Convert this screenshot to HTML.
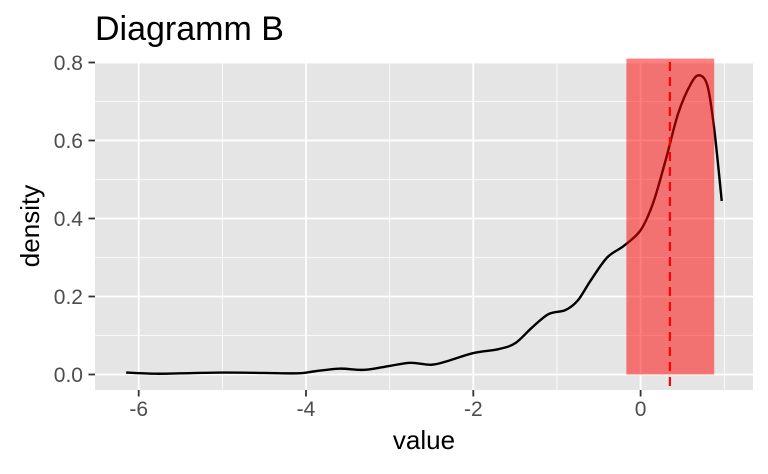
<!DOCTYPE html>
<html><head><meta charset="utf-8"><style>
body{margin:0;background:#fff}
svg{display:block;font-family:"Liberation Sans",Arial,sans-serif}
</style></head><body>
<svg id="chart" width="768" height="474" viewBox="0 0 768 474">
<text x="95" y="40" font-size="34" fill="#000">Diagramm B</text>
<rect x="95" y="62" width="658" height="328" fill="#e5e5e5"/>
<g id="grid"></g>
<g id="marks"></g>
<g id="axes"></g>
<text x="424" y="449" font-size="26" text-anchor="middle" fill="#000">value</text>
<text transform="translate(39,226) rotate(-90)" font-size="26" text-anchor="middle" fill="#000">density</text>
</svg>
<script>
const xs=[-6.15,-5.8,-5.5,-5,-4.5,-4.1,-3.9,-3.6,-3.3,-3,-2.75,-2.5,-2.3,-2,-1.7,-1.5,-1.3,-1.1,-0.9,-0.75,-0.6,-0.4,-0.2,0,0.15,0.3,0.45,0.6,0.7,0.8,0.88,0.97];
const ys=[0.005,0.002,0.003,0.005,0.004,0.003,0.008,0.015,0.012,0.022,0.03,0.025,0.035,0.055,0.065,0.08,0.12,0.155,0.165,0.19,0.24,0.3,0.33,0.37,0.44,0.55,0.67,0.745,0.767,0.74,0.63,0.445];
const xTicks=[-6,-4,-2,0];
const xTickLabels=["-6","-4","-2","0"];
const xMinor=[-5,-3,-1,1];
const yTicks=[0,0.2,0.4,0.6,0.8];
const yTickLabels=["0.0","0.2","0.4","0.6","0.8"];
const yMinor=[0.1,0.3,0.5,0.7];
const band=[-0.17,0.88];
const bandTop=0.81;
const meanLine=[0.35];
const NS="http://www.w3.org/2000/svg";
const X=v=>640.6+v*83.65;
const Y=v=>374.5-v*390;
const L=95,R=753,T=62,B=390;
function mk(tag,attrs,parent){const e=document.createElementNS(NS,tag);for(const k in attrs)e.setAttribute(k,attrs[k]);document.getElementById(parent).appendChild(e);return e;}
xMinor.forEach(v=>{const e=mk('line',{x1:X(v),x2:X(v),y1:T,y2:B,stroke:'#fff','stroke-width':0.8},'grid');

});
yMinor.forEach(v=>{const e=mk('line',{x1:L,x2:R,y1:Y(v),y2:Y(v),stroke:'#fff','stroke-width':0.8},'grid');

});
xTicks.forEach((v,i)=>{const e=mk('line',{x1:X(v),x2:X(v),y1:T,y2:B,stroke:'#fff','stroke-width':1.8},'grid');


const t=mk('line',{x1:X(v),x2:X(v),y1:B,y2:B+6.5,stroke:'#333','stroke-width':1.8},'axes');


const l=mk('text',{x:X(v),y:B+26,'font-size':21,'text-anchor':'middle',fill:'#4d4d4d'},'axes');l.textContent=xTickLabels[i];

});
yTicks.forEach((v,i)=>{const e=mk('line',{x1:L,x2:R,y1:Y(v),y2:Y(v),stroke:'#fff','stroke-width':1.8},'grid');


const t=mk('line',{x1:L-6.5,x2:L,y1:Y(v),y2:Y(v),stroke:'#333','stroke-width':1.8},'axes');


const l=mk('text',{x:L-12,y:Y(v)+7.5,'font-size':21,'text-anchor':'end',fill:'#4d4d4d'},'axes');l.textContent=yTickLabels[i];

});
const P=xs.map((x,i)=>[X(x),Y(ys[i])]);
let d='M'+P[0][0]+','+P[0][1];
for(let i=0;i<P.length-1;i++){const p0=P[Math.max(0,i-1)],p1=P[i],p2=P[i+1],p3=P[Math.min(P.length-1,i+2)];
d+=` C${p1[0]+(p2[0]-p0[0])/6},${p1[1]+(p2[1]-p0[1])/6} ${p2[0]-(p3[0]-p1[0])/6},${p2[1]-(p3[1]-p1[1])/6} ${p2[0]},${p2[1]}`;}
const c=mk('path',{d:d,fill:'none',stroke:'#000','stroke-width':2.4},'marks');


const r=mk('rect',{x:X(band[0]),y:Y(bandTop),width:X(band[1])-X(band[0]),height:Y(0)-Y(bandTop),fill:'rgba(255,0,0,0.5)'},'marks');


meanLine.forEach(v=>{const m=mk('line',{x1:X(v),x2:X(v),y1:T,y2:B,stroke:'#ff0000','stroke-width':2.2,'stroke-dasharray':'9,6'},'marks');

});
</script>
</body></html>
